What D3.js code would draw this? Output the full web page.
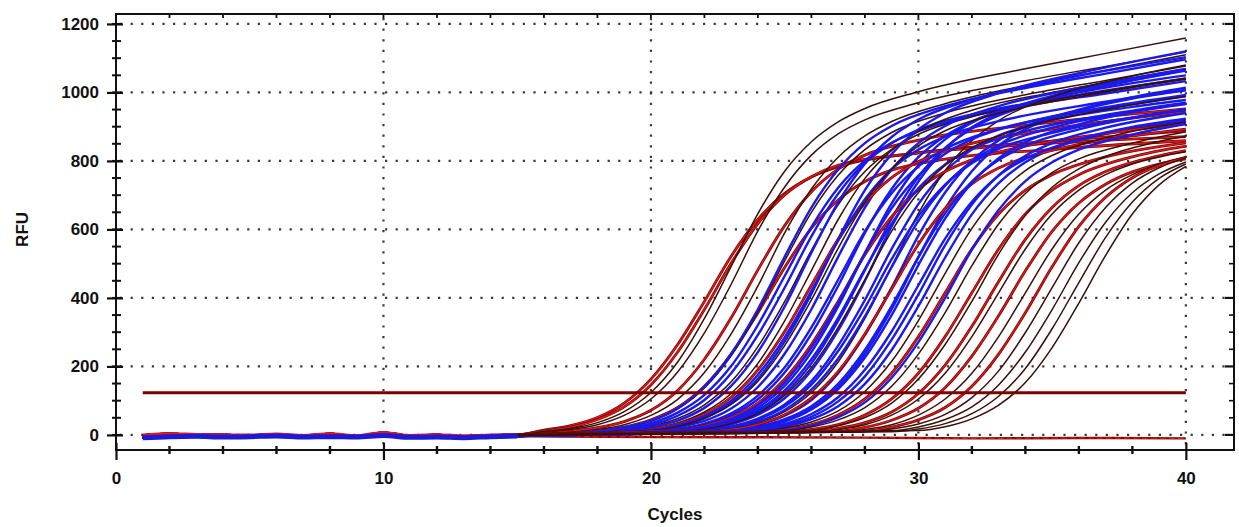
<!DOCTYPE html>
<html><head><meta charset="utf-8">
<script src="https://cdn.jsdelivr.net/npm/d3@7"></script>
<style>body{margin:0;background:#fff;} svg{display:block;font-family:"Liberation Sans",Arial,sans-serif;}</style>
</head><body><svg id="c" width="1239" height="527"></svg>
<script>
// ---------- data ----------
const xTicks = [0, 10, 20, 30, 40];
const yTicks = [0, 200, 400, 600, 800, 1000, 1200];
const xLabel = "Cycles";
const yLabel = "RFU";
const thresholdRFU = 123;
const thresholdCycles = [1, 40];
const baselineCycles = [1, 2, 3, 4, 5, 6, 7, 8, 9, 10, 11, 12, 13, 14, 15];
const baselineBlue = [-8, -5, -4, -6, -5, -3, -6, -5, -6, -2, -7, -6, -8, -5, -3];
const baselineRed  = [-2, 2, 0, -1, -2, 1, -3, 2, -4, 6, -3, -1, -4, -2, 0];
const negCycles = [1, 10, 20, 28, 32, 36, 40];
const negRFU = [-4, -3, -6, -8, -10, -9, -10];
const curveGroup = ["red","red","maroon","maroon","red","maroon","red","maroon","blue","blue",
  "maroon",
  "blue","blue","maroon","blue","blue","blue","blue","blue","blue","blue","maroon","blue","blue","blue",
  "red","blue","maroon","blue","red","blue","blue","maroon","blue",
  "blue","red","blue","blue","blue","blue","maroon","red","blue","maroon",
  "red","maroon","red","maroon","red","maroon","red","maroon","maroon","maroon","maroon"];
const curvePoints = [
 [[16,14],[17,27],[18,51],[19,93],[20,163],[21,264],[22,390],[23,522],[24,629],[25,705],[26,753],[27,783],[30,824],[34,852],[40,888]],
 [[16,12],[17,23],[18,45],[19,82],[20,146],[21,242],[22,366],[23,501],[24,617],[25,701],[26,754],[27,787],[30,823],[34,847],[40,871]],
 [[16,10],[17,19],[18,36],[19,68],[20,124],[21,213],[22,340],[23,492],[24,646],[25,770],[26,856],[27,914],[28,953],[30,1002],[34,1069],[37,1114],[40,1159]],
 [[17,16],[18,30],[19,57],[20,105],[21,184],[22,298],[23,440],[24,596],[25,724],[26,817],[27,879],[28,920],[30,970],[34,1034],[37,1076],[40,1118]],
 [[17,11],[18,21],[19,39],[20,72],[21,130],[22,221],[23,342],[24,482],[25,611],[26,710],[27,776],[28,817],[30,861],[34,904],[40,952]],
 [[18,16],[19,30],[20,57],[21,104],[22,182],[23,295],[24,435],[25,590],[26,718],[27,811],[28,873],[29,915],[31,967],[34,1020],[37,1065],[40,1110]],
 [[18,12],[19,23],[20,44],[21,80],[22,142],[23,236],[24,357],[25,489],[26,604],[27,686],[28,740],[29,773],[31,805],[35,834],[40,859]],
 [[18,11],[19,22],[20,40],[21,76],[22,137],[23,231],[24,359],[25,508],[26,650],[27,758],[28,833],[29,883],[31,940],[34,993],[37,1035],[40,1077]],
 [[18,9],[19,18],[20,34],[21,65],[22,117],[23,201],[24,321],[25,464],[26,607],[27,722],[28,801],[29,853],[31,912],[34,961],[37,997],[40,1033]],
 [[19,15],[20,29],[21,56],[22,102],[23,180],[24,292],[25,430],[26,580],[27,704],[28,794],[29,852],[30,891],[32,936],[35,980],[40,1040]],
 [[19,13],[20,25],[21,48],[22,88],[23,155],[24,258],[25,389],[26,539],[27,672],[28,769],[29,834],[30,878],[32,929],[35,977],[40,1042]],
 [[18,11],[19,22],[20,41],[21,77],[22,140],[23,237],[24,367],[25,520],[26,664],[27,775],[28,852],[29,902],[31,960],[34,1013],[37,1055],[40,1097]],
 [[19,12],[20,23],[21,42],[22,79],[23,143],[24,242],[25,375],[26,532],[27,679],[28,792],[29,870],[30,921],[32,979],[35,1033],[40,1103]],
 [[19,10],[20,18],[21,35],[22,67],[23,121],[24,209],[25,333],[26,480],[27,629],[28,749],[29,831],[30,886],[32,948],[35,1000],[40,1065]],
 [[20,14],[21,26],[22,50],[23,93],[24,164],[25,273],[26,412],[27,572],[28,715],[29,820],[30,892],[31,940],[33,998],[36,1056],[40,1120]],
 [[20,11],[21,22],[22,41],[23,77],[24,140],[25,237],[26,367],[27,520],[28,664],[29,775],[30,852],[31,902],[33,960],[36,1013],[40,1069]],
 [[21,16],[22,30],[23,57],[24,104],[25,182],[26,295],[27,435],[28,590],[29,718],[30,811],[31,873],[32,915],[34,967],[37,1020],[40,1065]],
 [[21,12],[22,23],[23,42],[24,79],[25,143],[26,242],[27,375],[28,531],[29,676],[30,787],[31,863],[32,912],[34,966],[37,1014],[40,1050]],
 [[21,10],[22,18],[23,35],[24,67],[25,121],[26,209],[27,333],[28,481],[29,632],[30,754],[31,838],[32,895],[34,961],[37,1019],[40,1064]],
 [[22,16],[23,31],[24,59],[25,107],[26,188],[27,305],[28,450],[29,609],[30,740],[31,835],[32,898],[33,939],[35,990],[38,1040],[40,1068]],
 [[22,13],[23,25],[24,48],[25,89],[26,157],[27,261],[28,394],[29,543],[30,674],[31,769],[32,833],[33,874],[35,919],[38,958],[40,978]],
 [[22,10],[23,19],[24,36],[25,68],[26,124],[27,213],[28,340],[29,492],[30,647],[31,772],[32,859],[33,918],[35,987],[38,1048],[40,1080]],
 [[23,15],[24,29],[25,56],[26,102],[27,180],[28,292],[29,430],[30,582],[31,708],[32,800],[33,860],[34,901],[36,950],[38,986],[40,1014]],
 [[23,11],[24,22],[25,41],[26,77],[27,140],[28,237],[29,367],[30,519],[31,661],[32,770],[33,845],[34,893],[36,947],[38,982],[40,1006]],
 [[24,12],[25,24],[26,46],[27,84],[28,149],[29,248],[30,376],[31,518],[32,644],[33,735],[34,796],[35,835],[37,879],[40,918]],
 [[19,9],[20,17],[21,32],[22,61],[23,110],[24,190],[25,302],[26,437],[27,571],[28,677],[29,751],[30,798],[32,851],[35,893],[40,943]],
 [[20,15],[21,29],[22,55],[23,100],[24,176],[25,285],[26,420],[27,567],[28,688],[29,776],[30,833],[31,871],[33,916],[36,960],[40,1008]],
 [[20,13],[21,25],[22,48],[23,89],[24,157],[25,261],[26,394],[27,545],[28,679],[29,777],[30,844],[31,888],[33,939],[36,987],[40,1039]],
 [[20,9],[21,17],[22,33],[23,63],[24,115],[25,197],[26,314],[27,453],[28,594],[29,706],[30,784],[31,835],[33,893],[36,941],[40,989]],
 [[21,14],[22,27],[23,51],[24,93],[25,163],[26,264],[27,390],[28,526],[29,637],[30,717],[31,769],[32,803],[34,843],[37,880],[40,910]],
 [[21,13],[22,24],[23,47],[24,87],[25,153],[26,255],[27,385],[28,531],[29,662],[30,757],[31,821],[32,863],[34,912],[37,957],[40,993]],
 [[21,11],[22,21],[23,39],[24,72],[25,130],[26,221],[27,342],[28,484],[29,617],[30,720],[31,790],[32,835],[34,887],[37,934],[40,970]],
 [[21,9],[22,17],[23,33],[24,63],[25,115],[26,197],[27,314],[28,453],[29,595],[30,708],[31,787],[32,839],[34,899],[37,950],[40,989]],
 [[22,12],[23,23],[24,45],[25,83],[26,147],[27,245],[28,371],[29,513],[30,639],[31,731],[32,793],[33,835],[35,882],[38,927],[40,951]],
 [[22,11],[23,21],[24,39],[25,73],[26,132],[27,223],[28,346],[29,490],[30,625],[31,728],[32,799],[33,845],[35,897],[38,944],[40,968]],
 [[22,9],[23,16],[24,31],[25,59],[26,108],[27,185],[28,295],[29,426],[30,557],[31,661],[32,733],[33,779],[35,831],[38,873],[40,893]],
 [[23,12],[24,24],[25,46],[26,84],[27,149],[28,248],[29,376],[30,519],[31,647],[32,740],[33,803],[34,844],[36,892],[38,925],[40,949]],
 [[23,11],[24,21],[25,39],[26,74],[27,134],[28,226],[29,350],[30,496],[31,632],[32,736],[33,808],[34,855],[36,907],[38,942],[40,966]],
 [[23,9],[24,17],[25,32],[26,61],[27,110],[28,190],[29,302],[30,437],[31,573],[32,681],[33,757],[34,806],[36,863],[38,899],[40,923]],
 [[24,15],[25,28],[26,53],[27,98],[28,171],[29,278],[30,410],[31,554],[32,673],[33,758],[34,815],[35,852],[37,897],[40,940]],
 [[24,10],[25,20],[26,38],[27,70],[28,127],[29,215],[30,334],[31,472],[32,603],[33,703],[34,772],[35,816],[37,868],[40,914]],
 [[24,8],[25,16],[26,30],[27,58],[28,105],[29,180],[30,287],[31,415],[32,543],[33,645],[34,715],[35,760],[37,812],[40,853]],
 [[25,14],[26,27],[27,52],[28,95],[29,167],[30,271],[31,400],[32,541],[33,657],[34,741],[35,796],[36,833],[38,877],[40,908]],
 [[25,12],[26,23],[27,44],[28,80],[29,142],[30,236],[31,357],[32,494],[33,616],[34,705],[35,766],[36,806],[38,852],[40,885]],
 [[25,8],[26,16],[27,30],[28,58],[29,105],[30,180],[31,287],[32,415],[33,543],[34,645],[35,715],[36,760],[38,812],[40,843]],
 [[26,14],[27,27],[28,51],[29,93],[30,163],[31,264],[32,390],[33,528],[34,641],[35,723],[36,777],[37,813],[39,857],[40,872]],
 [[26,10],[27,19],[28,36],[29,67],[30,121],[31,204],[32,317],[33,448],[34,571],[35,664],[36,728],[37,769],[39,815],[40,830]],
 [[26,8],[27,16],[28,30],[29,58],[30,105],[31,180],[32,287],[33,415],[34,543],[35,645],[36,715],[37,760],[38,791],[40,827]],
 [[27,11],[28,22],[29,43],[30,78],[31,138],[32,230],[33,348],[34,479],[35,594],[36,677],[37,732],[38,768],[39,791],[40,806]],
 [[27,8],[28,16],[29,30],[30,58],[31,105],[32,180],[33,287],[34,415],[35,543],[36,645],[37,715],[38,760],[39,791],[40,812]],
 [[28,12],[29,23],[30,44],[31,80],[32,142],[33,236],[34,357],[35,491],[36,609],[37,694],[38,751],[39,787],[40,810]],
 [[28,9],[29,17],[30,32],[31,60],[32,109],[33,187],[34,299],[35,430],[36,561],[37,664],[38,735],[39,780],[40,809]],
 [[29,12],[30,23],[31,45],[32,82],[33,146],[34,242],[35,366],[36,503],[37,621],[38,707],[39,762],[40,797]],
 [[29,9],[30,17],[31,33],[32,62],[33,113],[34,194],[35,310],[36,445],[37,577],[38,680],[39,749],[40,791]],
 [[30,13],[31,24],[32,47],[33,87],[34,153],[35,255],[36,385],[37,524],[38,645],[39,730],[40,784]]
];

// ---------- layout / style ----------
const plot = {left: 116, right: 1234, top: 14, bottom: 450};
const svg = d3.select("#c");
const x = d3.scaleLinear().domain([0, 41.8]).range([plot.left, plot.right]);
const y = d3.scaleLinear().domain([-44, 1229]).range([plot.bottom, plot.top]);

svg.append("defs").append("clipPath").attr("id", "clip")
  .append("rect").attr("x", plot.left).attr("y", plot.top)
  .attr("width", plot.right - plot.left).attr("height", plot.bottom - plot.top);

// grid
const grid = svg.append("g");
grid.selectAll(".hg").data(yTicks).join("line")
  .attr("x1", plot.left + 4).attr("x2", plot.right).attr("y1", d => y(d)).attr("y2", d => y(d))
  .attr("stroke", "#3a3a3a").attr("stroke-width", 2.2).attr("stroke-dasharray", "2.2 8.4");
grid.selectAll(".vg").data(xTicks.filter(d => d > 0)).join("line")
  .attr("x1", d => x(d)).attr("x2", d => x(d)).attr("y1", plot.top + 4).attr("y2", plot.bottom)
  .attr("stroke", "#3a3a3a").attr("stroke-width", 2.2).attr("stroke-dasharray", "2.2 8.4");

// curves
const line = d3.line().x(d => x(d[0])).y(d => y(d[1])).curve(d3.curveMonotoneX);
const curvesG = svg.append("g").attr("clip-path", "url(#clip)");

function fullPoints(i) {
  const pts = curvePoints[i];
  const base = curveGroup[i] === "blue" ? baselineBlue : baselineRed;
  const start = pts[0][0];
  const b = baselineCycles.map((c, j) => [c, base[j]]).filter(p => p[0] < start);
  return b.concat(pts);
}

const negPts = negCycles.map((c, j) => [c, negRFU[j]]);
curvesG.append("path").attr("d", line(negPts)).attr("fill", "none")
  .attr("stroke", "#7a0a0a").attr("stroke-width", 2.4);
curvesG.append("path").attr("d", line(negPts)).attr("fill", "none")
  .attr("stroke", "#e81515").attr("stroke-width", 1.2).attr("stroke-dasharray", "6 3");

curvePoints.forEach((_, i) => {
  const d = line(fullPoints(i));
  const g = curveGroup[i];
  if (g === "blue") {
    curvesG.append("path").attr("d", d).attr("fill", "none")
      .attr("stroke", "#1a1aec").attr("stroke-width", 2.4);
  } else if (g === "red") {
    curvesG.append("path").attr("d", d).attr("fill", "none")
      .attr("stroke", "#6e0a0a").attr("stroke-width", 2.8);
    curvesG.append("path").attr("d", d).attr("fill", "none")
      .attr("stroke", "#f01414").attr("stroke-width", 1.3);
  } else {
    curvesG.append("path").attr("d", d).attr("fill", "none")
      .attr("stroke", "#3a1008").attr("stroke-width", 1.5);
  }
});

// baseline band (drawn from the shared baseline readings)
const baseRedPts = baselineCycles.map((c, j) => [c, baselineRed[j]]);
const baseBluePts = baselineCycles.map((c, j) => [c, baselineBlue[j]]);
curvesG.append("path").attr("d", line(baseRedPts)).attr("fill", "none")
  .attr("stroke", "#e01818").attr("stroke-width", 4);
curvesG.append("path").attr("d", line(baseBluePts)).attr("fill", "none")
  .attr("stroke", "#1a1ad8").attr("stroke-width", 5);

// threshold line
svg.append("line")
  .attr("x1", x(thresholdCycles[0])).attr("x2", x(thresholdCycles[1]))
  .attr("y1", y(thresholdRFU)).attr("y2", y(thresholdRFU))
  .attr("stroke", "#7d0000").attr("stroke-width", 3);

// frame
svg.append("rect").attr("x", plot.left).attr("y", plot.top)
  .attr("width", plot.right - plot.left).attr("height", plot.bottom - plot.top)
  .attr("fill", "none").attr("stroke", "#111").attr("stroke-width", 2);

// axes
const fontSize = 17;
const yAxis = d3.axisLeft(y).tickValues(yTicks).tickFormat(d3.format("d")).tickSize(9).tickPadding(8);
const yG = svg.append("g").attr("transform", `translate(${plot.left},0)`).call(yAxis);
yG.select(".domain").remove();
yG.selectAll(".tick line").attr("stroke", "#111").attr("stroke-width", 2.2).attr("x2", -9).attr("x1", 7);
yG.selectAll("text").attr("font-size", fontSize).attr("font-weight", "bold").attr("fill", "#111");

const yMinor = d3.range(0, 1201, 50);
svg.append("g").selectAll("line").data(yMinor).join("line")
  .attr("x1", plot.left - 4).attr("x2", plot.left + 5).attr("y1", d => y(d)).attr("y2", d => y(d))
  .attr("stroke", "#111").attr("stroke-width", 2);
svg.append("g").selectAll("line").data(yMinor).join("line")
  .attr("x2", plot.right).attr("y1", d => y(d)).attr("y2", d => y(d))
  .attr("stroke", "#111").attr("stroke-width", d => d % 200 === 0 ? 2.2 : 1.6)
  .attr("x1", d => d % 200 === 0 ? plot.right - 9 : plot.right - 5);

const xAxis = d3.axisBottom(x).tickValues(xTicks).tickFormat(d3.format("d")).tickSize(9).tickPadding(13);
const xG = svg.append("g").attr("transform", `translate(0,${plot.bottom})`).call(xAxis);
xG.select(".domain").remove();
xG.selectAll(".tick line").attr("stroke", "#111").attr("stroke-width", 2.2).attr("y1", -7).attr("y2", 10);
xG.selectAll("text").attr("font-size", fontSize).attr("font-weight", "bold").attr("fill", "#111");

const xMinor = d3.range(2, 41, 2).filter(d => d % 10 !== 0);
svg.append("g").selectAll("line").data(xMinor).join("line")
  .attr("x1", d => x(d)).attr("x2", d => x(d)).attr("y1", plot.bottom - 4).attr("y2", plot.bottom + 4)
  .attr("stroke", "#111").attr("stroke-width", 2.4);
svg.append("g").selectAll("line").data(d3.range(2, 41, 2)).join("line")
  .attr("x1", d => x(d)).attr("x2", d => x(d)).attr("y1", plot.top).attr("y2", plot.top + 4)
  .attr("stroke", "#111").attr("stroke-width", 1.8);

// axis titles
svg.append("text").attr("x", (plot.left + plot.right) / 2).attr("y", 520)
  .attr("text-anchor", "middle").attr("font-size", 17).attr("font-weight", "bold").attr("fill", "#111").text(xLabel);
svg.append("text").attr("transform", `translate(28,${y(600)}) rotate(-90)`)
  .attr("text-anchor", "middle").attr("font-size", 17).attr("font-weight", "bold").attr("fill", "#111").text(yLabel);
</script>
</body></html>
